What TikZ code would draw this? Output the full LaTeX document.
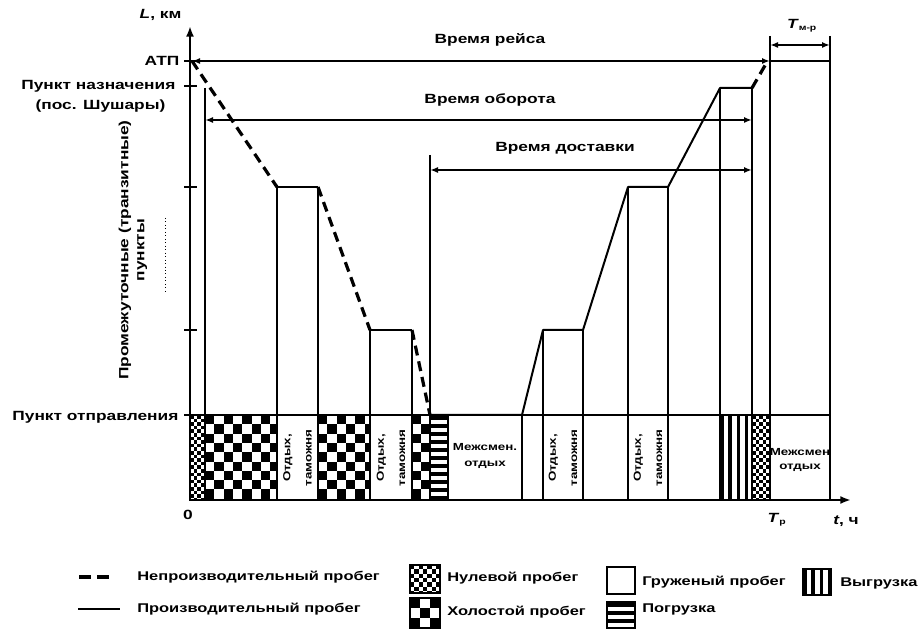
\documentclass[tikz,border=0pt]{standalone}
\usepackage{fontspec}
\setmainfont{Liberation Sans}[FakeStretch=1.3]
\usepackage{tikz}
\usetikzlibrary{positioning,arrows.meta}
\tikzstyle{axis line}=[line width=2.2pt,-{Latex[length=8pt,width=6pt]}]
\tikzstyle{idle run}=[line width=2.4pt,dash pattern=on 7.5pt off 4.5pt]
\tikzstyle{loaded run}=[line width=1.5pt,line join=round]
\tikzstyle{stop line}=[line width=0.8pt]
\tikzstyle{time span}=[line width=1.2pt,{Latex[length=6pt,width=4.5pt]}-{Latex[length=6pt,width=4.5pt]}]
\tikzstyle{cell edge}=[line width=0.8pt]
\tikzstyle{lbl}=[font=\bfseries\fontsize{10}{12}\selectfont,inner sep=1pt]
\tikzstyle{small lbl}=[font=\bfseries\fontsize{7.7}{9}\selectfont,inner sep=0pt,align=center]
\tikzstyle{key lbl}=[font=\bfseries\fontsize{9.5}{11}\selectfont,anchor=west,inner sep=0pt]
\newcommand{\checkcell}[5]{
  \begin{scope}
    \clip (#2,#3) rectangle (#4,#5);
    \pgfmathtruncatemacro{\ncol}{ceil((#4-#2)/#1)}
    \pgfmathtruncatemacro{\nrow}{ceil((#5-#3)/#1)}
    \foreach \ci in {0,...,\ncol}{
      \foreach \cj in {0,...,\nrow}{
        \pgfmathtruncatemacro{\cpar}{mod(\ci+\cj,2)}
        \ifnum\cpar=0 \fill (#2+\ci*#1,#3+\cj*#1) rectangle ++(#1,#1);\fi
      }}
  \end{scope}
  \draw[cell edge] (#2,#3) rectangle (#4,#5);
}
\newcommand{\hstripes}[4]{
  \begin{scope}
    \clip (#1,#2) rectangle (#3,#4);
    \foreach \k in {0,...,12}
      \fill (#1,#2+1+\k*8) rectangle (#3,#2+4.5+\k*8);
  \end{scope}
  \draw[cell edge] (#1,#2) rectangle (#3,#4);
}
\newcommand{\vstripes}[4]{
  \begin{scope}
    \clip (#1,#2) rectangle (#3,#4);
    \foreach \k in {0,...,6}
      \fill (#1+\k*8.3,#2) rectangle (#1+3.5+\k*8.3,#4);
  \end{scope}
  \draw[cell edge] (#1,#2) rectangle (#3,#4);
}
\newcommand{\restcell}[3]{
  \node[small lbl,rotate=90] (#1) at ({(#2+#3)/2},458) {Отдых,\\[7pt]таможня};
}
\begin{document}
\begin{tikzpicture}[x=0.75pt,y=-0.75pt]
  \fill[white] (0,0) rectangle (920,630);
  \useasboundingbox (0,0) rectangle (920,630);

  \coordinate (O) at (190,500);
  \coordinate (atp) at (192,61);
  \coordinate (dest) at (752,88);
  \coordinate (tr) at (770,61);

  % bottom strip
  \checkcell{3.6}{190}{415}{205}{500}
  \checkcell{9.3}{205}{415}{277}{500}
  \checkcell{9.3}{318}{415}{370}{500}
  \checkcell{9.3}{412}{415}{430}{500}
  \hstripes{430}{415}{448}{500}
  \vstripes{720}{415}{752}{500}
  \checkcell{3.6}{752}{415}{770}{500}

  \foreach \vx/\vy in {205/88, 277/187, 318/187, 370/330, 412/330, 430/155, 448/415,
      522/415, 543/330, 583/330, 628/187, 668/187, 720/88, 752/88, 770/36, 830/36}
    \draw[stop line] (\vx,\vy) -- (\vx,500);
  \draw[stop line] (190,415) -- (830,415);

  \draw[loaded run] (277,187) -- (318,187);
  \draw[loaded run] (370,330) -- (412,330);
  \draw[loaded run] (430,415) -- (522,415) -- (543,330) -- (583,330) -- (628,187)
      -- (668,187) -- (720,88) -- (dest);

  \draw[idle run] (atp) -- (277,187);
  \draw[idle run] (318,187) -- (370,330);
  \draw[idle run] (412,330) -- (430,415);
  \draw[idle run] (dest) -- (767,62);

  \draw[time span] (atp) -- (tr);
  \draw[line width=1.2pt] (tr) -- (830,61);
  \draw[time span] (205,120) -- (752,120);
  \draw[time span] (430,170) -- (752,170);
  \draw[time span] (770,45) -- (830,45);

  \node[lbl] (trip) at (490,40) {Время рейса};
  \node[lbl] (turn) at (490,100) {Время оборота};
  \node[lbl] (deliv) at (565,148) {Время доставки};
  \node[lbl] (tmr) at (802,26) {\textit{T}\textsubscript{\fontsize{6}{6}\selectfont м-р}};

  % axes
  \foreach \ty in {61,86,187,330,415}
    \draw[line width=1pt] (184,\ty) -- (197,\ty);
  \draw[axis line] (O) -- (190,26);
  \draw[axis line] (O) -- (851,500);

  \node[lbl,anchor=east] (Lkm) at (183,15) {\textit{L}, км};
  \node[lbl,anchor=east] (atpl) at (181,61) {АТП};
  \node[lbl,anchor=east] (destl) at (177,86) {Пункт назначения};
  \node[lbl,anchor=east] (destl2) at (167,106) {(пос. Шушары)};
  \node[lbl,anchor=east] (origl) at (180,417) {Пункт отправления};
  \node[lbl,rotate=90,align=center] (midl) at (133,250) {Промежуточные (транзитные)\\пункты};
  \draw[dotted,line width=0.6pt] (165,218) -- (165,293);
  \node[lbl] (zero) at (188,515) {0};
  \node[lbl] (Tr) at (777,520) {\textit{T}\textsubscript{\fontsize{6}{6}\selectfont р}};
  \node[lbl] (tch) at (846,521) {\textit{t}, ч};

  % cell texts
  \restcell{rest1}{277}{318}
  \restcell{rest2}{370}{412}
  \restcell{rest3}{543}{583}
  \restcell{rest4}{628}{668}
  \node[small lbl] (shift1) at (485,456) {Межсмен.\\[3pt]отдых};
  \node[small lbl] (shift2) at (800,460) {Межсмен\\[2pt]отдых};

  % legend
  \draw[idle run,dash pattern=on 9pt off 4.5pt] (79,577) -- (115,577);
  \node[key lbl] (k1) at (137,577) {Непроизводительный пробег};
  \draw[loaded run] (78,609) -- (120,609);
  \node[key lbl] (k2) at (137,609) {Производительный пробег};
  \checkcell{4.3}{410}{565}{440}{593}
  \node[key lbl] (k3) at (447,578) {Нулевой пробег};
  \checkcell{10}{410}{598}{440}{628}
  \node[key lbl] (k4) at (447,612) {Холостой пробег};
  \draw[cell edge] (607,567) rectangle (635,594);
  \node[key lbl] (k5) at (642,582) {Груженый пробег};
  \hstripes{607}{602}{635}{628}
  \node[key lbl] (k6) at (642,609) {Погрузка};
  \vstripes{803}{569}{831}{595}
  \node[key lbl] (k7) at (840,583) {Выгрузка};
\end{tikzpicture}
\end{document}
